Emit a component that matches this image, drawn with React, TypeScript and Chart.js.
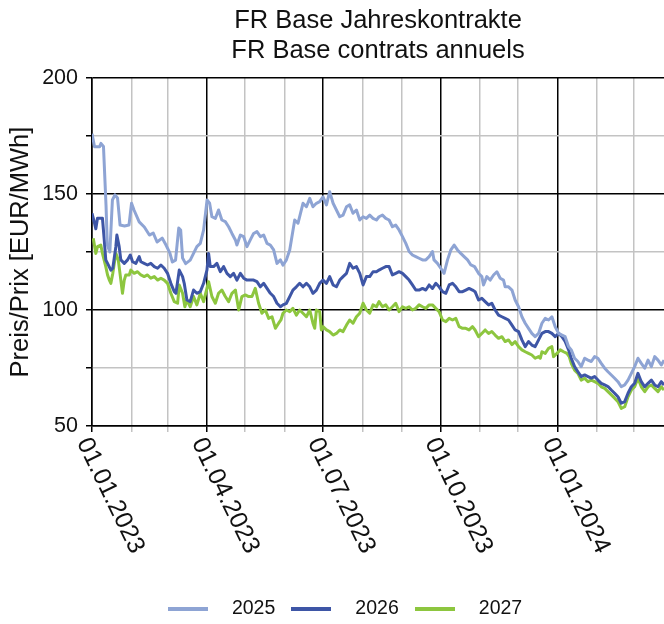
import { useEffect, useRef } from 'react';
import { Chart, registerables } from 'chart.js';

Chart.register(...registerables);

const chartTitle = ['FR Base Jahreskontrakte', 'FR Base contrats annuels'];
const yAxisTitle = 'Preis/Prix [EUR/MWh]';
const seriesNames = ['2025', '2026', '2027'];
const seriesColors = ['#8ea4d4', '#3e56a6', '#8dc63f'];

// x values: days since 01.01.2023
const xMinDay = 0;
const xMaxDay = 448.4;
const monthStartDays = [0, 31, 59, 90, 120, 151, 181, 212, 243, 273, 304, 334, 365, 396, 425];
const quarterDays = [0, 90, 181, 273, 365];
const quarterLabels = ['01.01.2023', '01.04.2023', '01.07.2023', '01.10.2023', '01.01.2024'];
const yMin = 50;
const yMax = 200;
const yStep = 25;

const days2025 = [
  0, 2, 6, 7, 9, 11, 12, 14, 16, 18,
  20, 22, 25.5, 29, 31, 33, 37, 41, 45, 48,
  51, 55, 58, 61, 63, 65.5, 68, 69.5, 71, 73.4,
  77, 82.2, 84.9, 87.5, 90.2, 92.2, 94, 96.7, 99.2, 101.8,
  104.5, 107.1, 109.7, 112.4, 113.6, 116.3, 118.9, 121.5, 124.1, 126.7,
  129.3, 132, 134.6, 137.2, 139.8, 142.4, 145, 147.7, 149.7, 152.4,
  155, 156.3, 158.9, 161.5, 162.8, 165.4, 168.1, 170.7, 173.2, 175.9,
  178.5, 181.1, 183.8, 186.3, 189, 191.6, 194.2, 196.8, 199.5, 202,
  204.6, 207.3, 209.9, 212.5, 215.1, 217.7, 220.3, 223, 225, 227.7,
  230.3, 232.9, 235.5, 238.1, 240.7, 243.4, 246, 248.6, 251.2, 253.8,
  256.4, 259.1, 261.7, 264.3, 266.9, 268.1, 270.8, 273.4, 276, 278.7,
  281.3, 283.9, 286.5, 289.1, 291.7, 294.4, 297, 299.9, 303, 305.6,
  306.9, 309.5, 312.1, 314.8, 317.4, 320, 322.6, 323.9, 326.5, 329.2,
  331.7, 334.4, 337, 339.6, 342.2, 344.8, 347.4, 350.1, 352.7, 355.3,
  357.9, 360.5, 363.1, 365.8, 368.4, 370.9, 373.6, 375.7, 378.3, 380.9,
  383.5, 386.2, 388.8, 391.4, 394, 396.6, 399.2, 401.9, 404.5, 407.1,
  409.7, 412.3, 414.9, 417.6, 420.2, 422.8, 425.4, 428, 430.6, 433.3,
  435.9, 438.5, 441.1, 443.7, 446.3, 448.4,
];
const values2025 = [
  176, 170.4, 170.4, 171.8, 170.5, 145, 128, 125, 147.4, 149.6,
  148.3, 136.6, 136.2, 136.6, 146, 143, 138, 135.8, 132.3, 133.2,
  129.3, 131, 128, 124.6, 120.7, 121.5, 135.3, 134.5, 122.4, 120,
  121.5, 127.3, 128.7, 134.5, 147.4, 146, 140.2, 139.5, 143.1, 138.8,
  138.1, 135.9, 133, 130.2, 128, 132.3, 131.6, 127.3, 130.2, 133,
  133.8, 131.6, 132.3, 128.7, 128, 125.9, 120.1, 121.6, 119.3, 121.6,
  125.9, 130.2, 138.8, 137.4, 140.2, 146, 144.5, 148.1, 144.5, 146,
  146.7, 148.8, 145.3, 151, 146, 143.1, 140.2, 140.9, 144.5, 145.3,
  141.7, 143.1, 138.8, 140.2, 139.5, 140.9, 139.5, 138.8, 140.2, 140.9,
  139.5, 138.8, 135.9, 136.6, 134.5, 131.6, 128.7, 125.2, 123.7, 123,
  122.3, 121.6, 121.6, 123, 125.2, 121.6, 120.1, 118, 115.8, 121.6,
  125.9, 128, 125.9, 124.4, 123, 121.6, 119.4, 118.7, 115.8, 114.4,
  110.8, 114.4, 112.9, 115.1, 116.5, 113.7, 112.9, 110, 110, 108.6,
  104.3, 101.4, 97.1, 94.3, 92.1, 89.9, 88.5, 89.9, 94.3, 96.4,
  95.7, 97.1, 92.8, 89.9, 89.2, 88.5, 84.2, 82.8, 79.2, 77.8,
  75.6, 79.2, 78.4, 77.8, 79.9, 79.2, 77, 74.9, 73.4, 72,
  70.6, 69.1, 66.9, 67.7, 69.8, 72.7, 75.6, 79.2, 77, 74.9,
  78.4, 75.6, 79.9, 78.4, 76.3, 78.4,
];

const days2026 = [
  0, 2, 3, 4.3, 6.9, 8.2, 9.6, 10.8, 12.2, 14.8,
  16.3, 18.7, 19.5, 21.3, 22.6, 25.3, 27.9, 30, 31.8, 34.4,
  37, 38.3, 40.9, 43.5, 46.1, 48.8, 51.4, 54, 56.6, 59.2,
  61.8, 64.5, 65.8, 68.4, 71, 72.3, 74.4, 77, 79.6, 82.2,
  84.9, 87.5, 90.1, 91.4, 92.7, 95.3, 97.9, 100.6, 103.2, 105.8,
  108.4, 111, 113.6, 116.3, 118.9, 121.5, 124.1, 126.7, 129.3, 132,
  134.6, 137.2, 139.8, 142.4, 145, 147.7, 149.7, 152.4, 155, 157.5,
  160.2, 162.8, 165.4, 168.1, 170.7, 173.2, 175.9, 178.5, 181.1, 183.8,
  186.3, 189, 191.6, 194.2, 196.8, 199.5, 202, 204.6, 207.3, 209.9,
  212.5, 215.1, 217.7, 220.3, 223, 225, 227.7, 230.3, 232.9, 235.5,
  238.1, 240.7, 243.4, 246, 248.6, 251.2, 253.8, 256.4, 259.1, 261.7,
  264.3, 266.9, 269.5, 272.1, 274.8, 277.4, 280, 282.6, 285.2, 287.8,
  290.5, 293, 295.6, 298.3, 300.3, 303, 305.6, 308.2, 310.9, 313.4,
  316, 318.7, 321.3, 323.9, 326.5, 329.2, 331.7, 334.4, 337, 339.6,
  342.2, 344.8, 347.4, 350.1, 352.7, 355.3, 357.9, 360.5, 363.1, 365.8,
  368.4, 370.9, 373.6, 375.7, 378.3, 380.9, 383.5, 386.2, 388.8, 391.4,
  394, 396.6, 399.2, 401.9, 404.5, 407.1, 409.7, 412.3, 414.9, 417.6,
  420.2, 422.8, 425.4, 428, 430.6, 433.3, 435.9, 438.5, 441.1, 443.7,
  446.3, 448.4,
];
const values2026 = [
  141.7, 137.4, 135, 139.5, 139.5, 139.5, 130.2, 121.6, 120.1, 117.2,
  118, 127.3, 132.3, 127.3, 121.6, 120.1, 121.6, 123.7, 120.8, 120.1,
  123, 120.8, 120.1, 119.4, 120.1, 118.7, 118, 119.4, 118, 115.8,
  111.5, 107.9, 107.2, 117.2, 114.4, 111.5, 104.3, 103.6, 108.6, 107.2,
  107.9, 111.5, 117.2, 124.4, 118.7, 118.7, 120.1, 116.5, 118.7, 115.8,
  114.4, 115.8, 112.9, 115.8, 113.7, 112.9, 112.9, 112.9, 112.2, 110,
  111.5, 109.3, 107.2, 105.8, 102.9, 101.4, 102.2, 102.9, 105.8, 108.6,
  110, 111.5, 110, 111.5, 110, 107.2, 108.6, 111.5, 112.9, 111.5,
  114.4, 110.8, 110, 112.9, 114.4, 115.8, 120.1, 118, 118.7, 115.8,
  110.8, 114.4, 114.4, 116.5, 116.5, 117.2, 118, 118.7, 118.7, 115.1,
  115.8, 116.5, 115.8, 114.4, 112.9, 110.8, 108.6, 108.6, 109.3, 108.6,
  110.8, 109.3, 111.5, 110, 107.9, 107.2, 110.8, 111.5, 110, 107.9,
  107.9, 108.6, 109.3, 108.6, 107.9, 104.3, 105, 103.6, 102.2, 102.9,
  100, 97.8, 97.1, 96.4, 95.7, 93.5, 91.4, 90.7, 87.1, 84.2,
  86.4, 84.9, 84.2, 87.1, 89.9, 90.7, 90.7, 89.9, 88.5, 89.9,
  88.5, 86.4, 82.8, 79.2, 75.6, 73.4, 71.3, 72, 71.3, 70.6,
  71.3, 69.8, 68.4, 67.7, 67, 65.5, 64.1, 62.6, 59.8, 60.5,
  64.1, 66.9, 68.4, 72.7, 69.1, 66.9, 68.4, 69.8, 67.7, 66.9,
  69.1, 67.7,
];

const days2027 = [
  1, 3, 4.3, 6.9, 8.2, 10.8, 12.2, 13.5, 14.8, 16.3,
  18.7, 20.6, 22.6, 23.9, 25.3, 26.5, 29.2, 30.4, 33.1, 35.7,
  38.3, 40.9, 43.5, 46.1, 48.8, 51.4, 54, 56.6, 59.2, 61.8,
  64.5, 67.1, 68.4, 71, 72.8, 74.4, 77, 79.6, 82.2, 84.9,
  87.5, 91.4, 94, 96.7, 99.2, 101.8, 104.5, 107.1, 109.7, 112.4,
  115, 117.5, 120.2, 122.8, 125.4, 128, 130.6, 133.2, 135.9, 138.5,
  141.1, 143.8, 146.3, 148.1, 149.7, 152.4, 155, 157.5, 160.2, 162.8,
  165.4, 168.1, 170.7, 173.2, 174.6, 175.9, 178.5, 179.8, 181.1, 183.8,
  186.3, 189, 191.6, 194.2, 196.8, 199.5, 202, 204.6, 207.3, 209.9,
  212.5, 215.1, 217.7, 220.3, 223, 225, 227.7, 230.3, 232.9, 235.5,
  238.1, 240.7, 243.4, 246, 248.6, 251.2, 253.8, 256.4, 259.1, 261.7,
  264.3, 266.9, 269.5, 272.1, 274.8, 277.4, 280, 282.6, 285.2, 287.8,
  290.5, 293, 295.6, 298.3, 300.3, 303, 305.6, 308.2, 310.9, 313.4,
  316, 318.7, 321.3, 323.9, 326.5, 329.2, 331.7, 334.4, 337, 339.6,
  342.2, 344.8, 347.4, 350.1, 351.4, 352.7, 355.3, 357.9, 360.5, 361.8,
  364.5, 367.1, 369.7, 372.3, 374.1, 375.7, 378.3, 380.9, 383.5, 386.2,
  388.8, 391.4, 394, 396.6, 399.2, 401.9, 404.5, 407.1, 409.7, 412.3,
  414.9, 417.6, 420.2, 422.8, 425.4, 428, 430.6, 433.3, 435.9, 438.5,
  441.1, 443.7, 446.3, 448.4,
];
const values2027 = [
  130.9, 124.4, 127.3, 128, 124.4, 118.7, 115.1, 113, 111.5, 115.8,
  124.4, 121.6, 112.9, 107.2, 112.9, 115.1, 115.1, 117.2, 115.8, 116.5,
  115.1, 114.4, 115.1, 113.7, 114.4, 112.9, 113.7, 112.9, 111.5, 107.2,
  103.6, 102.9, 110.8, 107.2, 101.4, 104.3, 101.4, 105.8, 102.2, 107.2,
  103.6, 112.2, 105.8, 102.9, 107.2, 108.6, 105.8, 103.6, 107.2, 108.6,
  100, 105.8, 106.5, 105.8, 105.8, 109.3, 102.9, 98.6, 100, 96.4,
  97.1, 92.1, 94.3, 95.7, 98.6, 100, 99.3, 100.7, 97.8, 100,
  98.6, 97.1, 100, 94.3, 92.1, 100, 99.3, 91.4, 92.8, 91.4,
  90.7, 89.2, 89.9, 91.4, 90.7, 93.5, 95.7, 94.3, 97.1, 98.6,
  102.9, 100, 98.6, 102.2, 101.4, 103.6, 101.4, 102.2, 100, 101.4,
  102.9, 99.3, 101.4, 100.7, 101.4, 100, 100.7, 102.2, 101.4, 100.7,
  102.2, 102.2, 100.7, 99.3, 95.7, 95, 96.4, 95.7, 96.4, 92.8,
  92.1, 92.1, 91.4, 92.8, 91.4, 88.5, 89.9, 91.4, 89.9, 90.7,
  89.2, 87.8, 88.5, 86.4, 87.1, 85.1, 86.4, 84.2, 82.8, 82,
  81.3, 80.6, 79.2, 79.9, 79.2, 82, 81.3, 83.5, 84.2, 79.9,
  81.3, 82.8, 82, 81.3, 79.9, 77, 74.1, 72.7, 69.8, 70.6,
  69.1, 69.8, 69.1, 68.4, 66.9, 66.2, 64.8, 63.4, 62, 60.5,
  57.6, 58.3, 62.6, 65.5, 66.9, 70.6, 66.9, 64.8, 66.9, 67.7,
  66.2, 64.8, 66.9, 65.5,
];

const FONT_FAMILY = "'Liberation Sans', Arial, Helvetica, sans-serif";
const TEXT_COLOR = '#111111';
const MAJOR_GRID = '#000000';
const MINOR_GRID = '#c3c3c3';
const LEGEND_FONT = 19.5;
const LEGEND_SLOT = 68.35;

function zip(days: number[], values: number[]) {
  const n = Math.min(days.length, values.length);
  const out: { x: number; y: number }[] = [];
  for (let i = 0; i < n; i++) out.push({ x: days[i], y: values[i] });
  return out;
}

function legendSwatch(color: string) {
  const c = document.createElement('canvas');
  c.width = 40;
  c.height = 4;
  const g = c.getContext('2d');
  if (g) {
    g.fillStyle = color;
    g.fillRect(0, 0, 40, 4);
  }
  return c;
}

export default function App() {
  const canvasRef = useRef<HTMLCanvasElement | null>(null);

  useEffect(() => {
    document.body.style.margin = '0';
    const canvas = canvasRef.current;
    if (!canvas) return;

    Chart.defaults.font.family = FONT_FAMILY;
    Chart.defaults.color = TEXT_COLOR;

    const swatches = seriesColors.map(legendSwatch);

    const xLabelPlugin = {
      id: 'rotatedXLabels',
      afterDraw(chart: any) {
        const { ctx, chartArea, scales } = chart;
        const xs = scales.x;
        ctx.save();
        ctx.font = `25px ${FONT_FAMILY}`;
        ctx.fillStyle = TEXT_COLOR;
        ctx.textAlign = 'left';
        ctx.textBaseline = 'top';
        quarterDays.forEach((d, i) => {
          const px = xs.getPixelForValue(d);
          ctx.save();
          ctx.translate(px + 2, chartArea.bottom + 8);
          ctx.rotate((64 * Math.PI) / 180);
          ctx.fillText(quarterLabels[i], 0, 0);
          ctx.restore();
        });
        ctx.restore();
      },
    };

    const seriesData = [zip(days2025, values2025), zip(days2026, values2026), zip(days2027, values2027)];

    const chart = new Chart(canvas, {
      type: 'line',
      data: {
        datasets: seriesNames.map((name, i) => ({
          label: name,
          data: seriesData[i],
          borderColor: seriesColors[i],
          backgroundColor: seriesColors[i],
          borderWidth: 3,
          pointRadius: 0,
          pointHoverRadius: 0,
          tension: 0,
          fill: false,
          borderJoinStyle: 'round' as const,
        })),
      },
      options: {
        animation: false,
        responsive: false,
        devicePixelRatio: 1,
        events: [],
        layout: { padding: { left: 12, right: 0, top: 0, bottom: -4.75 } },
        plugins: {
          title: {
            display: true,
            text: chartTitle,
            fullSize: false,
            color: TEXT_COLOR,
            font: { size: 25.5, weight: 'normal', lineHeight: 1.2 },
            padding: { top: 5.5, bottom: 11.3 },
          },
          legend: {
            position: 'bottom',
            labels: {
              usePointStyle: true,
              pointStyleWidth: LEGEND_SLOT,
              boxHeight: 4,
              padding: 2,
              color: TEXT_COLOR,
              font: { size: LEGEND_FONT },
              generateLabels: (c: any) =>
                (Chart.defaults.plugins.legend.labels.generateLabels as any)(c).map((it: any) => ({
                  ...it,
                  pointStyle: swatches[it.datasetIndex],
                  lineWidth: 0,
                })),
            },
          },
          tooltip: { enabled: false },
        },
        scales: {
          x: {
            type: 'linear',
            min: xMinDay,
            max: xMaxDay,
            afterBuildTicks: (s: any) => {
              s.ticks = monthStartDays.map((v) => ({ value: v }));
            },
            afterFit: (s: any) => {
              s.height = 171.25;
            },
            ticks: { display: false },
            grid: {
              color: (c: any) => (quarterDays.includes(c.tick?.value) ? MAJOR_GRID : MINOR_GRID),
              tickColor: (c: any) => (quarterDays.includes(c.tick?.value) ? MAJOR_GRID : MINOR_GRID),
              lineWidth: 1.5,
              drawTicks: true,
              tickLength: 6,
            },
            border: { display: true, color: MAJOR_GRID, width: 1.5 },
          },
          y: {
            type: 'linear',
            min: yMin,
            max: yMax,
            afterFit: (s: any) => {
              s.width = 80;
            },
            ticks: {
              stepSize: yStep,
              padding: 8,
              color: TEXT_COLOR,
              font: { size: 21.5 },
              callback: (v: any) => (Number(v) % 50 === 0 ? String(v) : ''),
            },
            grid: {
              color: (c: any) => (c.tick && c.tick.value % 50 === 0 ? MAJOR_GRID : MINOR_GRID),
              tickColor: MAJOR_GRID,
              lineWidth: 1.5,
              drawTicks: true,
              tickLength: 6,
            },
            border: { display: true, color: MAJOR_GRID, width: 1.5 },
            title: {
              display: true,
              text: yAxisTitle,
              color: TEXT_COLOR,
              font: { size: 25.5, lineHeight: 0.72 },
              padding: { top: 0, bottom: 0 },
            },
          },
        },
      },
      plugins: [xLabelPlugin],
    } as any);

    return () => {
      chart.destroy();
    };
  }, []);

  return (
    <div style={{ width: 664, height: 624 }}>
      <canvas ref={canvasRef} width={664} height={624} style={{ display: 'block' }} />
    </div>
  );
}
